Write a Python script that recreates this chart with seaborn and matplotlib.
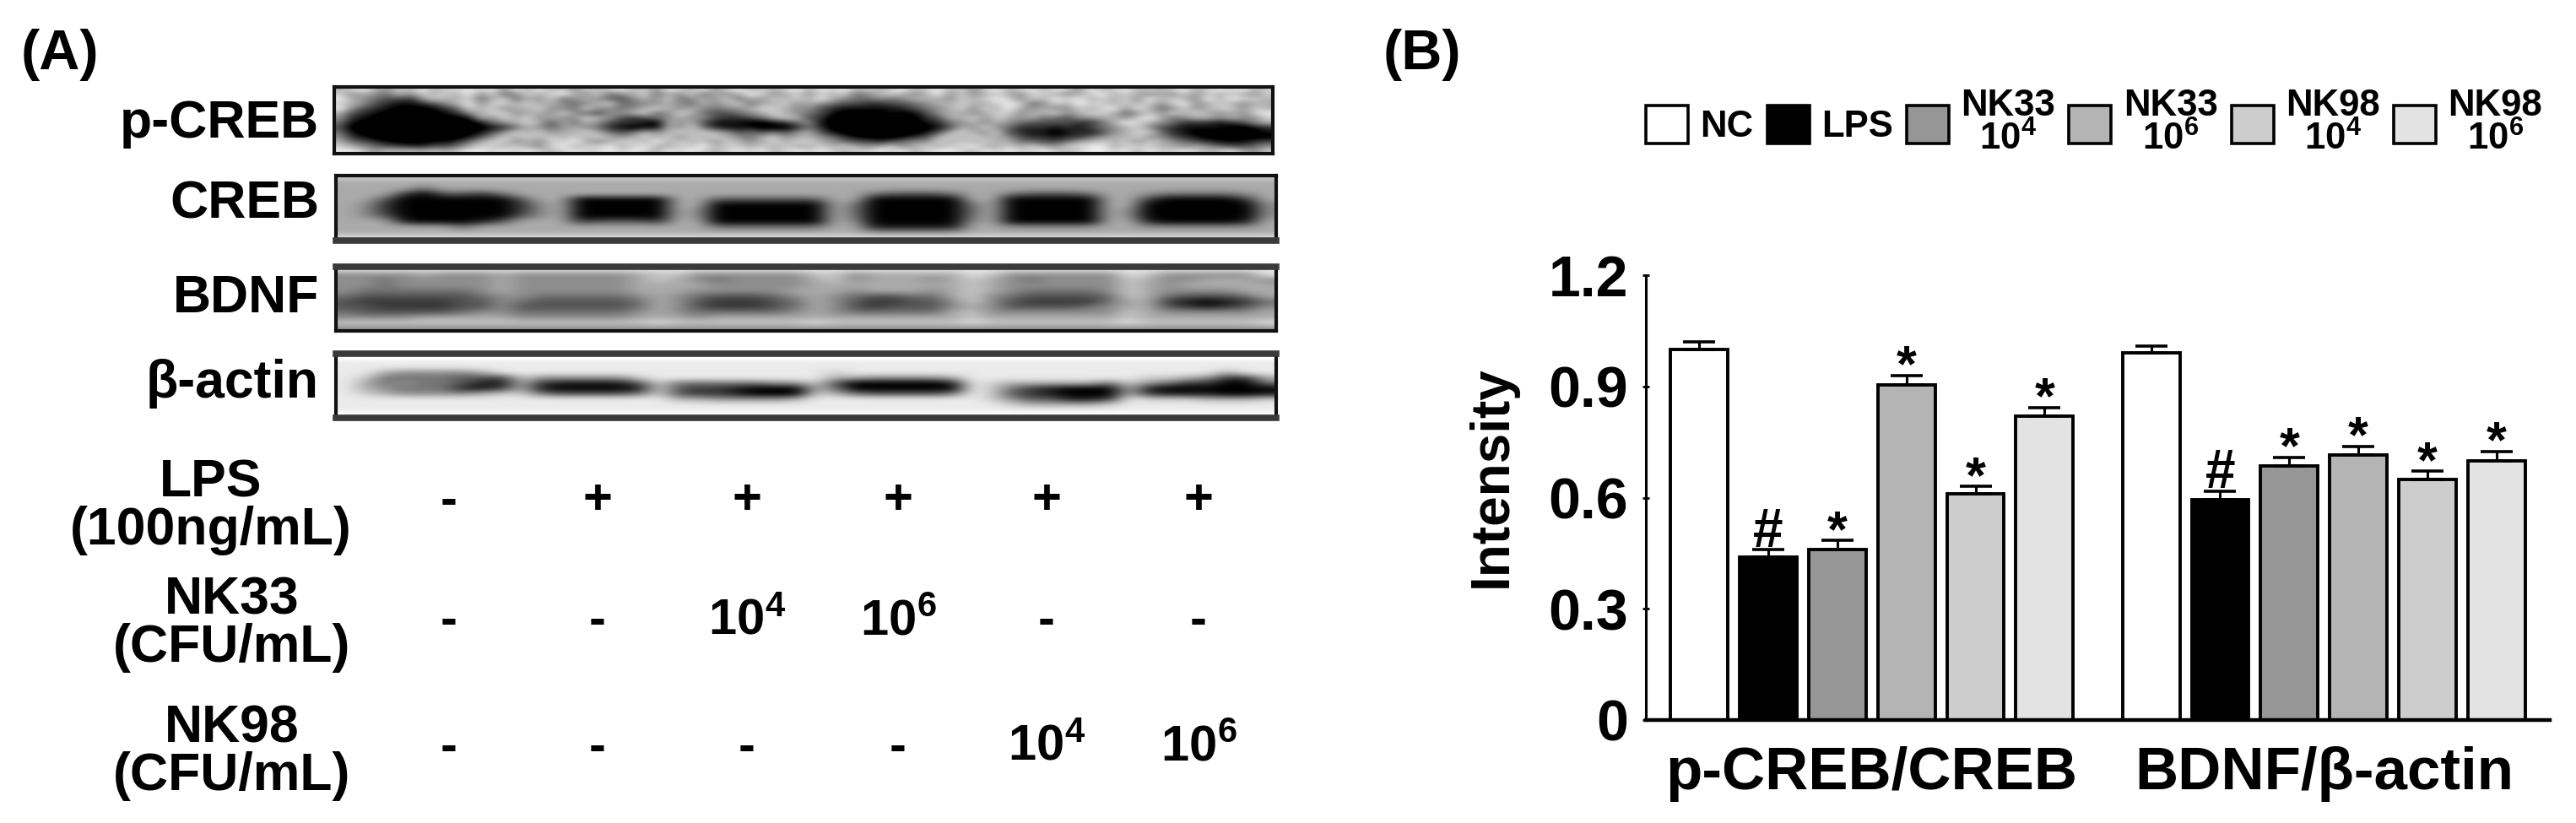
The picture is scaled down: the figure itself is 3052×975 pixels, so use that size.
#!/usr/bin/env python3
"""Western blots (A) and band intensity bars (B)."""

import matplotlib
matplotlib.use("Agg")
import matplotlib.pyplot as plt
from matplotlib.patches import Patch
import numpy as np
import pandas as pd
import seaborn as sns

FIG_W, FIG_H = 3052, 975

groups = ["p-CREB/CREB", "BDNF/β-actin"]
treatments = ["NC", "LPS", "NK33 1e4", "NK33 1e6", "NK98 1e4", "NK98 1e6"]
legend_labels = ["NC", "LPS", "NK33\n10$^{4}$", "NK33\n10$^{6}$", "NK98\n10$^{4}$", "NK98\n10$^{6}$"]
colors = ["#ffffff", "#000000", "#969696", "#b4b4b4", "#cdcdcd", "#e3e3e3"]

pcreb_vals = [1.00, 0.44, 0.46, 0.905, 0.61, 0.82]
pcreb_errs = [0.02, 0.02, 0.024, 0.025, 0.02, 0.023]
pcreb_marks = ["", "#", "*", "*", "*", "*"]
bdnf_vals = [0.99, 0.595, 0.685, 0.715, 0.65, 0.70]
bdnf_errs = [0.019, 0.023, 0.023, 0.023, 0.021, 0.025]
bdnf_marks = ["", "#", "*", "*", "*", "*"]

y_ticks = [0, 0.3, 0.6, 0.9, 1.2]
y_tick_labels = ["0", "0.3", "0.6", "0.9", "1.2"]

row_titles = ["LPS\n(100ng/mL)", "NK33\n(CFU/mL)", "NK98\n(CFU/mL)"]
lps_row = ["-", "+", "+", "+", "+", "+"]
nk33_row = ["-", "-", "10$^{4}$", "10$^{6}$", "-", "-"]
nk98_row = ["-", "-", "-", "-", "10$^{4}$", "10$^{6}$"]

blot_names = ["p-CREB", "CREB", "BDNF", "β-actin"]

# grey levels read off the blots, 0 black .. 9 white, one string per row
# (spaces are only there to keep the lanes readable)
pcreb_blot = [
    "7897687978 8989697978 6878978698 7968978789 7989787897 8978689789 7986978978 7897898978",
    "8676576878 7968568789 7685678576 8576798678 6878567876 7968678768 8767897876 7686878768",
    "9765443687 7857857685 6765467685 6768576878 7976556567 7768789868 7989787869 7876979887",
    "8764322346 7968878776 5678556676 5767857786 7654433445 6778778985 6879887878 6896787677",
    "9643211123 5878677866 5866567876 7656678876 6432222234 5678687976 7668789697 5686788687",
    "7432111012 3678867768 6546678568 7544567876 5421111212 4677678867 7867887568 6878767689",
    "6321000001 1276878676 6876434567 6643345787 4310000111 3477868767 5546677689 7567767668",
    "5210000000 0125678747 5764332176 7422211235 6210000001 2356767654 4443357987 6533323467",
    "4100000000 0012357656 7653212276 8532221113 5310000000 1247686533 3232456786 4322221123",
    "5210000000 0124687867 7875457678 7876454546 7421000001 2478768432 2123246788 5321111012",
    "6321000000 1246878787 8787678786 8787657867 7653211123 4787877643 3233567786 6432110111",
    "7543211122 3578867688 9767887978 7868767878 8765443456 6878787755 4457787868 7654322234",
    "8765443344 5788787689 7889789778 8978878787 7878767867 8788977878 7688997888 7767654456",
    "9986878787 8998989878 9889898798 9878989789 8987889897 8998798988 9878998979 8898789768",
]
creb_blot = [
    "777 777777 777 77777 77 777777 77 77777 77 77777 77 777777 7",
    "666 666666 666 66666 66 666666 66 66666 66 66666 66 666666 6",
    "666 646666 666 66666 66 666666 66 66666 66 66666 66 666666 6",
    "666 203324 666 66666 66 666666 66 43334 66 43334 66 544445 6",
    "663 000000 366 00000 66 333333 66 00000 66 00000 66 200002 6",
    "652 000000 256 00000 66 000000 64 00000 46 00000 66 000000 5",
    "652 000000 256 00000 65 000000 64 00000 46 00000 65 000000 5",
    "653 000000 356 00000 65 000000 64 00000 46 00000 65 000000 5",
    "666 100013 666 23332 66 000000 65 00000 56 00000 66 100001 6",
    "666 666466 666 66666 66 444444 66 11111 66 55555 66 555555 6",
    "666 666666 666 66666 66 666666 66 55555 66 66666 66 666666 6",
    "888 888888 888 88888 88 888888 88 88888 88 88888 88 888888 8",
]
bdnf_blot = [
    "88888888 8 8888888 88 888888 88 888888 88 888888 88 888888",
    "55556555 6 5555556 77 555555 77 566666 87 555555 87 555558",
    "55455555 6 5555556 76 545555 67 566656 76 545555 76 556665",
    "55455555 6 5555556 66 655555 66 666666 76 555555 76 566666",
    "54444445 6 5555556 66 555556 66 566656 76 544445 76 555566",
    "43333334 5 5444445 65 433345 65 433446 75 433334 76 433346",
    "32222233 5 4333334 65 322234 65 322335 75 322224 66 210124",
    "33222233 5 3333334 65 322234 65 323335 65 333345 66 321235",
    "43333345 5 4444445 65 444445 65 444446 75 555555 76 555556",
    "55556666 6 5555556 66 566666 66 666666 76 666666 76 666666",
    "77777777 7 7777777 87 777777 87 777777 87 777777 87 777778",
    "55555555 5 5555555 55 555555 55 555555 55 555555 55 555555",
]
actin_blot = [
    "99 9999999 9 999999 9 9999999 9 9999999 99 999999 9 9999999",
    "88 8888888 8 888888 8 8888888 8 8888888 88 888888 8 8888888",
    "88 8888888 8 888888 8 8888888 8 8888888 88 888888 8 8888888",
    "88 6555568 8 888888 8 8888888 8 7888888 88 888888 8 8888688",
    "87 4444332 7 555557 8 8888888 8 6655556 88 888888 8 7765226",
    "86 4544311 6 211113 7 4444455 7 3000001 87 666664 7 5422004",
    "86 5444112 6 100001 7 3221000 6 4000000 87 421000 6 1000000",
    "87 6555567 7 433334 7 3221000 7 6433334 87 321000 6 2111001",
    "88 8888888 8 888888 8 6655556 8 8888888 87 533112 8 7776667",
    "88 8888888 8 888888 8 8888888 8 8888888 88 766667 8 8888888",
    "88 8888888 8 888888 8 8888888 8 8888888 88 888888 8 8888888",
    "99 9999999 9 999999 9 9999999 9 9999999 99 999999 9 9999999",
]


def px(x, y):
    """Full-size picture pixels to figure fractions."""
    return x / FIG_W, 1 - y / FIG_H


def blot_array(rows):
    return np.array([[int(c) for c in r.replace(" ", "")] for r in rows], dtype=float)


def add_blot(fig, rows, box, levels, thick=()):
    x0, y0, x1, y1 = box
    left, bottom = px(x0, y1)
    ax = fig.add_axes([left, bottom, (x1 - x0) / FIG_W, (y1 - y0) / FIG_H])
    ax.imshow(blot_array(rows), cmap="gray", vmin=levels[0], vmax=levels[1], aspect="auto",
              interpolation="bicubic")
    ax.set_xticks([])
    ax.set_yticks([])
    for name, spine in ax.spines.items():
        spine.set_linewidth(5.5 if name in thick else 3)
        spine.set_color("#3a3a3a" if name in thick else "#111111")
    return ax


def panel_a(fig):
    blots = [pcreb_blot, creb_blot, bdnf_blot, actin_blot]
    boxes = [(396, 103, 1508, 182), (398, 208, 1512, 285), (398, 316, 1512, 392), (398, 419, 1512, 495)]
    levels = [(1.5, 9.5), (0, 9), (0, 9), (0, 8.7)]
    thick = [(), ("bottom",), ("top",), ("top", "bottom")]
    label_y = [147, 242, 353, 455]
    for name, rows, box, lv, th, ly in zip(blot_names, blots, boxes, levels, thick, label_y):
        add_blot(fig, rows, box, lv, th)
        fig.text(*px(378, ly), name, ha="right", va="center", fontsize=45, fontweight="bold")

    fig.text(*px(71, 65), "(A)", ha="center", va="center", fontsize=48, fontweight="bold")
    fig.text(*px(1685, 65), "(B)", ha="center", va="center", fontsize=48, fontweight="bold")

    col_x = [532, 708, 885, 1064, 1240, 1420]
    row_y = [594, 737, 886]
    title_x = [250, 275, 275]
    title_y = [600, 739, 891]
    rows = [lps_row, nk33_row, nk98_row]
    for title, tx, ty, y, row in zip(row_titles, title_x, title_y, row_y, rows):
        fig.text(*px(tx, ty), title, ha="center", va="center", fontsize=45, fontweight="bold",
                 linespacing=0.95, multialignment="center")
        for x, val in zip(col_x, row):
            fig.text(*px(x, y), val, ha="center", va="center", fontsize=43, fontweight="bold")


def panel_b(fig):
    df = pd.DataFrame({
        "group": np.repeat(groups, len(treatments)),
        "treatment": treatments * len(groups),
        "intensity": pcreb_vals + bdnf_vals,
    })
    left, bottom = px(1950, 853)
    ax = fig.add_axes([left, bottom, (3021 - 1950) / FIG_W, (853 - 326) / FIG_H])
    sns.barplot(
        data=df, x="group", y="intensity", hue="treatment", hue_order=treatments,
        palette=dict(zip(treatments, colors)), saturation=1, errorbar=None,
        width=0.917, gap=0.17, edgecolor="black", linewidth=2.8, legend=False, ax=ax,
    )
    # left to right is group by group, treatment by treatment
    errs = pcreb_errs + bdnf_errs
    marks = pcreb_marks + bdnf_marks
    bars = sorted(ax.patches, key=lambda b: b.get_x())
    for bar, err, mark in zip(bars, errs, marks):
        x = bar.get_x() + bar.get_width() / 2
        y = bar.get_height()
        ax.errorbar(x, y, yerr=[[0], [err]], fmt="none", ecolor="black",
                    elinewidth=2.2, capsize=14, capthick=2.6, zorder=1.5)
        if mark == "*":
            ax.annotate(mark, (x, y + err), xytext=(0, -14), textcoords="offset points",
                        ha="center", va="bottom", fontsize=44, fontweight="bold")
        elif mark == "#":
            ax.annotate(mark, (x, y + err), xytext=(0, -7), textcoords="offset points",
                        ha="center", va="bottom", fontsize=46, fontweight="bold")

    ax.set_xlim(-0.5, 1.5)
    ax.set_ylim(0, 1.2)
    ax.set_yticks(y_ticks, y_tick_labels)
    ax.tick_params(axis="y", labelsize=49, width=2, length=6, direction="inout", pad=12, left=True)
    ax.tick_params(axis="x", labelsize=51, width=0, length=0, pad=22)
    for lab in ax.get_xticklabels() + ax.get_yticklabels():
        lab.set_fontweight("bold")
    ax.set_xlabel("")
    ax.set_ylabel("Intensity", fontsize=46, fontweight="bold", va="center")
    ax.yaxis.set_label_coords((1768 - 1950) / (3021 - 1950), (853 - 565) / (853 - 326))
    sns.despine(ax=ax)
    ax.spines["left"].set_linewidth(2.2)
    ax.spines["bottom"].set_linewidth(3.2)

    handles = [Patch(facecolor=c, edgecolor="black", linewidth=2.6) for c in colors]
    leg = ax.legend(
        handles, legend_labels, ncol=6, frameon=False, loc="center left",
        bbox_to_anchor=px(1950, 146), bbox_transform=fig.transFigure, fontsize=31.5,
        handlelength=1.14, handleheight=1.21, handletextpad=0.33, columnspacing=0.37,
        borderpad=0, borderaxespad=0, labelspacing=0,
    )
    for txt in leg.get_texts():
        txt.set_fontweight("bold")
        txt.set_multialignment("center")
        txt.set_linespacing(0.95)


def main():
    sns.set_theme(style="white")
    plt.rcParams["font.family"] = ["Liberation Sans", "DejaVu Sans"]
    plt.rcParams["mathtext.fontset"] = "custom"
    plt.rcParams["mathtext.rm"] = "Liberation Sans:bold"
    plt.rcParams["mathtext.default"] = "rm"
    plt.rcParams["text.color"] = "black"
    plt.rcParams["axes.labelcolor"] = "black"
    plt.rcParams["xtick.color"] = "black"
    plt.rcParams["ytick.color"] = "black"
    plt.rcParams["axes.edgecolor"] = "black"

    fig = plt.figure(figsize=(FIG_W / 100, FIG_H / 100), dpi=100, facecolor="white")
    panel_a(fig)
    panel_b(fig)
    fig.savefig("out.png", dpi=100)
    plt.close(fig)


if __name__ == "__main__":
    main()
